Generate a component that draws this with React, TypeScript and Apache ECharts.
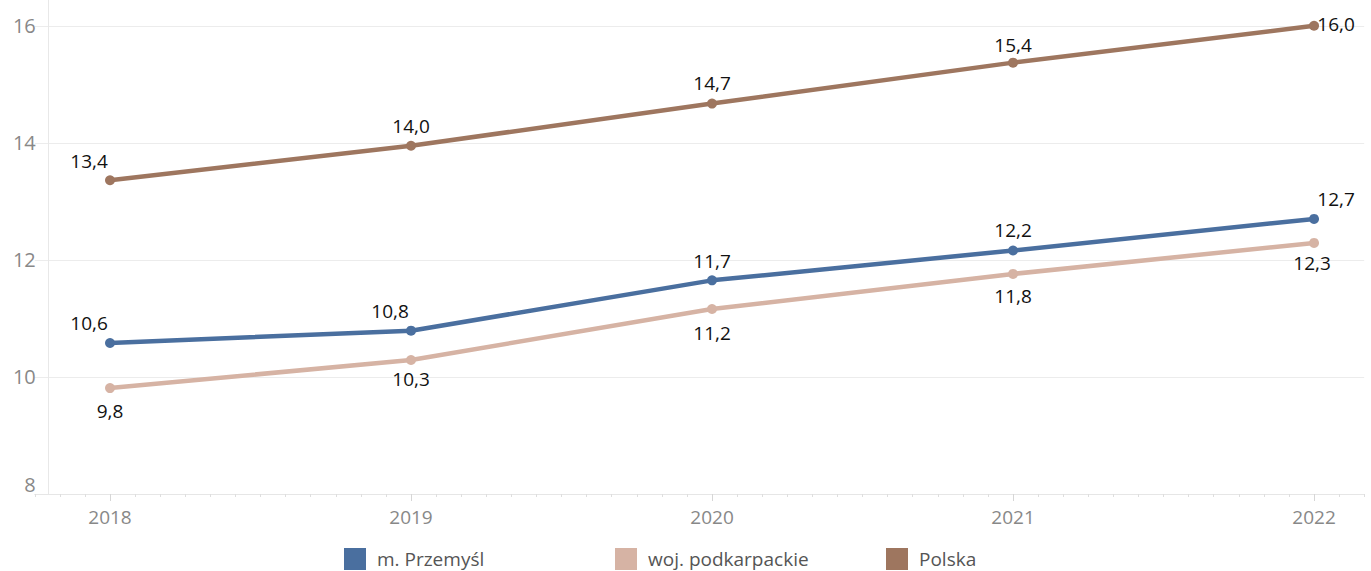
import React, { useEffect, useRef } from "react";
import * as echarts from "echarts";

const years = ["2018", "2019", "2020", "2021", "2022"];
const przemysl = [10.58, 10.79, 11.65, 12.16, 12.7];
const podkarpackie = [9.81, 10.29, 11.16, 11.76, 12.29];
const polska = [13.36, 13.95, 14.67, 15.37, 16.0];

const seriesNames = ["m. Przemyśl", "woj. podkarpackie", "Polska"];
const colors = ["#4a6f9f", "#d6b3a4", "#9e765f"];

// label offsets (styling only)
const przemyslOffsets = [[-21, 0], [-21, 0], [0, 0], [0, -1], [22, 0]];
const podkarpackieOffsets = [[0, 3], [0, 0], [0, 4], [0, 3], [-2, 1]];
const polskaOffsets = [[-21, 0], [0, 0], [0, -1], [0, 2], [22, 18]];

// month categories Oct 2017 .. Mar 2022
const months: string[] = [];
for (let y = 2017; y <= 2022; y++) {
  for (let m = 1; m <= 12; m++) {
    if (y === 2017 && m < 10) continue;
    if (y === 2022 && m > 3) continue;
    months.push(`${y}-${m < 10 ? "0" + m : m}`);
  }
}

const FONT = "'Open Sans', sans-serif";

function build(values: number[], offsets: number[][]) {
  return values.map((v, i) => ({
    value: [months.indexOf(years[i] + "-01"), v],
    label: { offset: offsets[i] },
  }));
}

export default function App() {
  const ref = useRef<HTMLDivElement>(null);
  useEffect(() => {
    if (!ref.current) return;
    const chart = echarts.init(ref.current, null, { renderer: "svg" });
    const fmt = (p: any) => (Math.round(p.value[1] * 10 + 1e-6) / 10).toFixed(1).replace(".", ",");
    const labelBase = {
      show: true,
      fontFamily: FONT,
      fontSize: 19,
      color: "#111",
      formatter: fmt,
      distance: 5,
    };
    const isJan = (_i: number, v: string) => v.endsWith("-01");
    const legendCommon = {
      orient: "horizontal",
      top: 548,
      padding: 0,
      icon: "path://M0 0h10v10h-10z",
      itemWidth: 34,
      itemHeight: 22,
      textStyle: { fontFamily: FONT, fontSize: 19, lineHeight: 20, color: "#555" },
      selectedMode: false,
    };
    chart.setOption({
      animation: false,
      grid: { left: 34.76, right: 6.8, top: 0, bottom: 77, containLabel: false },
      legend: [
        { ...legendCommon, left: 344, data: [seriesNames[0]] },
        { ...legendCommon, left: 615, data: [seriesNames[1]] },
        { ...legendCommon, left: 886, data: [seriesNames[2]] },
      ],
      xAxis: [
        {
          type: "category",
          data: months,
          boundaryGap: false,
          position: "bottom",
          axisLine: { show: true, onZero: false, lineStyle: { color: "#e6e6e6", width: 1 } },
          axisTick: { show: true, interval: 0, length: 3, lineStyle: { color: "#dedede" } },
          axisLabel: { show: false },
          splitLine: { show: false },
        },
        {
          type: "category",
          data: months,
          boundaryGap: false,
          position: "bottom",
          axisLine: { show: false, onZero: false },
          axisTick: { show: true, interval: isJan, length: 7, lineStyle: { color: "#d6d6d6" } },
          axisLabel: {
            show: true,
            interval: isJan,
            formatter: (v: string) => v.slice(0, 4),
            fontFamily: FONT,
            fontSize: 19,
            color: "#888",
            margin: 13,
          },
          splitLine: { show: false },
        },
      ],
      yAxis: {
        type: "value",
        min: 8,
        max: 16.44,
        interval: 2,
        offset: -13,
        axisLine: { show: true, lineStyle: { color: "#e8e8e8" } },
        axisTick: { show: false },
        axisLabel: {
          fontFamily: FONT,
          fontSize: 20,
          color: "#888",
          margin: 12,
          showMaxLabel: false,
          verticalAlignMinLabel: "bottom",
          formatter: (v: number) => (Math.abs(v - Math.round(v)) < 1e-6 ? String(v) : ""),
        },
        splitLine: {
          show: true,
          showMaxLine: false,
          showMinLine: false,
          lineStyle: { color: "#ececec", width: 1 },
        },
      },
      series: [
        {
          name: seriesNames[1],
          type: "line",
          xAxisIndex: 0,
          data: build(podkarpackie, podkarpackieOffsets),
          symbol: "circle",
          symbolSize: 10,
          lineStyle: { width: 4.5, color: colors[1] },
          itemStyle: { color: colors[1] },
          label: { ...labelBase, position: "bottom" },
        },
        {
          name: seriesNames[0],
          type: "line",
          xAxisIndex: 0,
          data: build(przemysl, przemyslOffsets),
          symbol: "circle",
          symbolSize: 10,
          lineStyle: { width: 4.5, color: colors[0] },
          itemStyle: { color: colors[0] },
          label: { ...labelBase, position: "top" },
        },
        {
          name: seriesNames[2],
          type: "line",
          xAxisIndex: 0,
          data: build(polska, polskaOffsets),
          symbol: "circle",
          symbolSize: 10,
          lineStyle: { width: 4.5, color: colors[2] },
          itemStyle: { color: colors[2] },
          label: { ...labelBase, position: "top" },
        },
      ],
    });
    return () => chart.dispose();
  }, []);
  return (
    <div
      ref={ref}
      style={{ position: "absolute", left: 0, top: 0, width: 1371, height: 571, background: "#fff" }}
    />
  );
}
